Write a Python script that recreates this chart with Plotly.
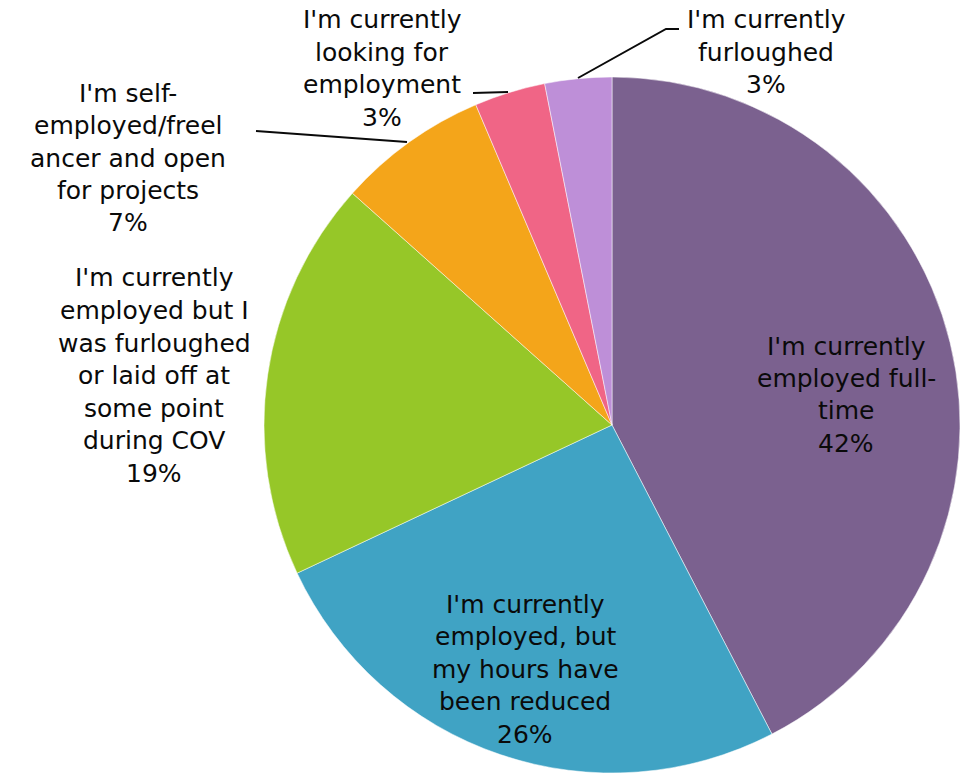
import plotly.graph_objects as go

# Survey responses: employment status
categories = [
    "I'm currently employed full-time",
    "I'm currently employed, but my hours have been reduced",
    "I'm currently employed but I was furloughed or laid off at some point during COV",
    "I'm self-employed/freelancer and open for projects",
    "I'm currently looking for employment",
    "I'm currently furloughed",
]
shares = [42.4, 25.6, 18.6, 7.0, 3.3, 3.1]
colors = ["#7B618F", "#40A3C4", "#96C728", "#F4A51A", "#F06586", "#BE8FD8"]

# Wrapped label lines as they appear next to each slice
label_lines = [
    ["I'm currently", "employed full-", "time"],
    ["I'm currently", "employed, but", "my hours have", "been reduced"],
    ["I'm currently", "employed but I", "was furloughed", "or laid off at", "some point", "during COV"],
    ["I'm self-", "employed/freel", "ancer and open", "for projects"],
    ["I'm currently", "looking for", "employment"],
    ["I'm currently", "furloughed"],
]

W, H = 960, 775
FONT = "DejaVu Sans"
FS = 25
LINE_H = 32.5

# label block anchors in pixels: (center x, first line center y)
label_pos = [(846, 346), (525, 604), (154, 278), (128, 93), (382, 20), (766, 20)]

# leader lines (pixel polylines)
leaders = [
    None, None, None,
    [(256, 131), (407, 142)],
    [(473, 93), (508, 92)],
    [(578, 78), (666, 29), (679, 29)],
]


def px(x, y):
    return x / W, 1 - y / H


cx, cy, r = 612, 425, 348
fig = go.Figure(
    go.Pie(
        labels=categories,
        values=shares,
        sort=False,
        direction="clockwise",
        rotation=0,
        marker=dict(colors=colors, line=dict(color="rgba(255,255,255,0.5)", width=1)),
        textinfo="none",
        hoverinfo="label+percent",
        showlegend=False,
        domain=dict(x=[(cx - r) / W, 1.0], y=[1 - (cy + r) / H, 1 - (cy - r) / H]),
    )
)

total = sum(shares)
annotations = []
for lines, v, (lx, ly) in zip(label_lines, shares, label_pos):
    all_lines = lines + [f"{round(v / total * 100)}%"]
    for i, t in enumerate(all_lines):
        x, y = px(lx, ly + i * LINE_H)
        annotations.append(dict(
            x=x, y=y, xref="paper", yref="paper", text=t, showarrow=False,
            xanchor="center", yanchor="middle",
            font=dict(family=FONT, size=FS, color="#0a0a0a"),
        ))

shapes = []
for pts in leaders:
    if not pts:
        continue
    path = ""
    for j, (x, y) in enumerate(pts):
        X, Y = px(x, y)
        path += ("M" if j == 0 else "L") + f"{X},{Y} "
    shapes.append(dict(type="path", path=path.strip(), xref="paper", yref="paper",
                       line=dict(color="#0a0a0a", width=2)))

fig.update_layout(
    width=W, height=H,
    margin=dict(l=0, r=0, t=0, b=0),
    paper_bgcolor="white", plot_bgcolor="white",
    annotations=annotations, shapes=shapes,
)

fig.write_html("out.html")
